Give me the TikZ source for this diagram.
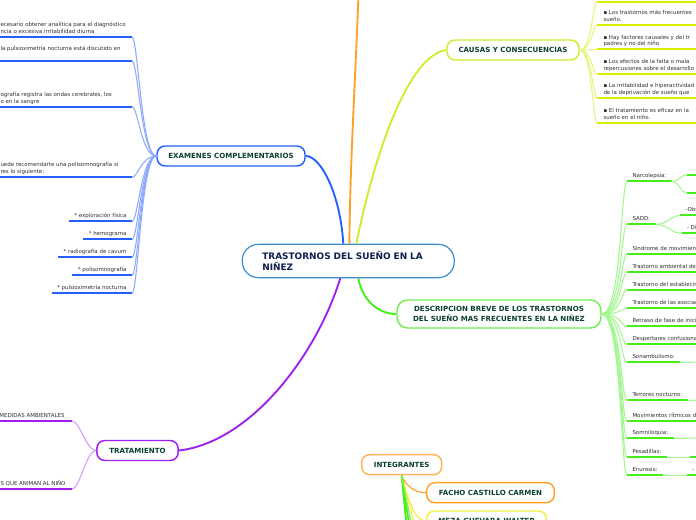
\documentclass[tikz,border=0pt]{standalone}
\usepackage{fontspec}
\setmainfont{DejaVu Sans}

\definecolor{rootline}{HTML}{3C8DCC}
\definecolor{roottext}{HTML}{0E1E4E}
\definecolor{topictext}{HTML}{0B4030}
\definecolor{leaftext}{HTML}{2E2E2E}
\definecolor{exblue}{HTML}{2360FF}
\definecolor{exlight}{HTML}{8EAAFF}
\definecolor{causa}{HTML}{D6F000}
\definecolor{causaborder}{HTML}{CDEE2C}
\definecolor{causalight}{HTML}{E4F57A}
\definecolor{descgreen}{HTML}{44EE18}
\definecolor{descborder}{HTML}{6FEE4C}
\definecolor{desclight}{HTML}{A2F78E}
\definecolor{tratpurple}{HTML}{9E1FF0}
\definecolor{tratlight}{HTML}{D09CFF}
\definecolor{integorange}{HTML}{FFA126}
\definecolor{mezayellow}{HTML}{F2F040}

\newcommand{\rootfont}{\bfseries\fontsize{6.7pt}{8.25pt}\selectfont}
\newcommand{\topicfont}{\bfseries\fontsize{5.3pt}{7.1pt}\selectfont}
\newcommand{\leaffont}{\fontsize{4.1pt}{5.1pt}\selectfont}

\tikzset{every picture/.style={line width=0.75pt}}
\tikzset{
  topic/.style={draw, fill=white, rounded corners=6pt, line width=1.1pt, inner sep=0pt, align=center, text=topictext, font=\topicfont},
  leaf/.style={inner xsep=3.75pt, inner ysep=0pt, text depth=2.6pt, anchor=base west, text=leaftext, font=\leaffont},
  note/.style={inner sep=0pt, align=left, anchor=base west, text=leaftext, font=\leaffont},
  branch/.style={line width=1.4pt},
  exline/.style={exblue, line width=1.5pt},
  exlink/.style={exlight, line width=0.8pt},
  caline/.style={causa, line width=1.5pt},
  calink/.style={causalight, line width=0.8pt},
  dline/.style={descgreen, line width=1.5pt},
  dlink/.style={desclight, line width=0.8pt},
  tline/.style={tratpurple, line width=1.5pt},
  tlink/.style={tratlight, line width=0.8pt}
}

\begin{document}
\begin{tikzpicture}[x=0.75pt,y=0.75pt,yscale=-1,xscale=1]
\useasboundingbox (0,0) rectangle (696,520);
\clip (0,0) rectangle (696,520);

%Shape: Rounded Rect [root]
\node[draw=rootline, fill=white, rounded corners=12pt, line width=0.9pt, minimum width=159pt, minimum height=25pt, inner sep=0pt, text width=129pt, align=left, text=roottext, font=\rootfont] (root) at (348.3,261) {TRASTORNOS DEL SUEÑO EN LA\\NIÑEZ};

%Shape: Rounded Rect [topics]
\node[topic, draw=exblue, minimum width=111pt, minimum height=15pt] (exam) at (231,156) {EXAMENES COMPLEMENTARIOS};
\node[topic, draw=causaborder, minimum width=99pt, minimum height=15pt] (causas) at (513,50) {CAUSAS Y CONSECUENCIAS};
\node[topic, draw=descborder, minimum width=153pt, minimum height=21pt, rounded corners=8pt] (desc) at (499,314) {DESCRIPCION BREVE DE LOS TRASTORNOS\\DEL SUEÑO MAS FRECUENTES EN LA NIÑEZ};
\node[topic, draw=tratpurple, minimum width=61pt, minimum height=15pt] (trat) at (137.5,450.5) {TRATAMIENTO};
\node[topic, draw=integorange!80, minimum width=60pt, minimum height=15pt] (integ) at (401.7,464.7) {INTEGRANTES};
\node[topic, draw=integorange, minimum width=95.7pt, minimum height=15pt] (facho) at (490.5,492.7) {FACHO CASTILLO CARMEN};
\node[topic, draw=mezayellow, minimum width=90pt, minimum height=15pt] (meza) at (486.7,521) {MEZA GUEVARA WALTER};

%Curve Lines [main branches]
\coordinate (orangeend) at (359,-20);
\draw[exblue, branch] (exam.east) .. controls +(15,0) and +(-3,-50) .. ([shift={(-5,0)}]root.north);
\draw[integorange, branch] ([shift={(1,0)}]root.north) .. controls +(1,-90) and +(-3,90) .. (orangeend);
\draw[causaborder, branch] ([shift={(8,0)}]root.north) .. controls +(19,-94) and +(-37,5) .. (causas.west);
\draw[tratpurple, branch] ([shift={(-8,0)}]root.south) .. controls +(-25,80) and +(70,-8) .. (trat.east);
\draw[descgreen, branch] ([shift={(10,0)}]root.south) .. controls +(4,22) and +(-18,0) .. (desc.west);

%Curve Lines [integrantes]
\coordinate (g1) at (407,530);
\coordinate (g2) at (410,530);
\coordinate (g3) at (412.5,530);
\coordinate (y1) at (416,530);
\draw[integorange, line width=0.9pt] (integ.south) .. controls +(4,10) and +(-12,0) .. (facho.west);
\draw[mezayellow, line width=0.9pt] (integ.south) .. controls +(6,22) and +(-12,0) .. (meza.west);
\draw[mezayellow, line width=0.9pt] (integ.south) -- (y1);
\draw[descgreen, line width=1.4pt] (integ.south) -- (g1);
\draw[descgreen, line width=1.2pt] (integ.south) -- (g2);
\draw[descgreen!70, line width=1pt] (integ.south) -- (g3);

%Examenes complementarios
\coordinate (ex1) at (132,37);
\coordinate (ex2) at (132,61);
\coordinate (ex3) at (132,106.7);
\coordinate (ex4) at (132,177.3);
% Text Node
\node[note] (ext1) at (0,33.5) {ecesario obtener analítica para el diagnóstico\\ncia o excesiva irritabilidad diurna};
% Text Node
\node[note] (ext2) at (0,50.7) {la pulsioximetría nocturna está discutido en};
% Text Node
\node[note] (ext3) at (0,103.2) {ografía registra las ondas cerebrales, los\\o en la sangre};
% Text Node
\node[note] (ext4) at (0,173.8) {uede recomendarte una polisomnografía si\\res lo siguiente:};
% Text Node
\node[leaf, anchor=base east] (ex5) at (132,217.5) {* exploración física};
\node[leaf, anchor=base east] (ex6) at (132,235.5) {* hemograma};
\node[leaf, anchor=base east] (ex7) at (132,253.5) {* radiografía de cavum};
\node[leaf, anchor=base east] (ex8) at (132,271.5) {* polisomnografía};
\node[leaf, anchor=base east] (ex9) at (132,289.5) {* pulsioximetría nocturna};

\draw[exline] (ex1) -- ++(-140,0);
\draw[exline] (ex2) -- ++(-140,0);
\draw[exline] (ex3) -- ++(-140,0);
\draw[exline] (ex4) -- ++(-140,0);
\draw[exline] (ex5.south west) -- (ex5.south east);
\draw[exline] (ex6.south west) -- (ex6.south east);
\draw[exline] (ex7.south west) -- (ex7.south east);
\draw[exline] (ex8.south west) -- (ex8.south east);
\draw[exline] (ex9.south west) -- (ex9.south east);

\draw[exlink] (exam.west) .. controls +(-15,0) and +(6,0) .. (ex1);
\draw[exlink] (exam.west) .. controls +(-15,0) and +(6,0) .. (ex2);
\draw[exlink] (exam.west) .. controls +(-15,0) and +(6,0) .. (ex3);
\draw[exlink] (exam.west) .. controls +(-15,0) and +(6,0) .. (ex4);
\draw[exlink] (exam.west) .. controls +(-15,0) and +(6,0) .. (ex5.south east);
\draw[exlink] (exam.west) .. controls +(-15,0) and +(6,0) .. (ex6.south east);
\draw[exlink] (exam.west) .. controls +(-15,0) and +(6,0) .. (ex7.south east);
\draw[exlink] (exam.west) .. controls +(-15,0) and +(6,0) .. (ex8.south east);
\draw[exlink] (exam.west) .. controls +(-15,0) and +(6,0) .. (ex9.south east);

%Causas y consecuencias
\coordinate (ca0) at (597,2);
\coordinate (ca1) at (597,25);
\coordinate (ca2) at (597,49.5);
\coordinate (ca3) at (597,74);
\coordinate (ca4) at (597,98.3);
\coordinate (ca5) at (597,122.7);
% Text Node
\node[note] (cat1) at (603,21.5) {▪ Los trastornos más frecuentes\\sueño.};
\node[note] (cat2) at (603,46) {▪ Hay factores causales y del tr\\padres y no del niño};
\node[note] (cat3) at (603,70.5) {▪ Los efectos de la falta o mala\\repercusiones sobre el desarrollo};
\node[note] (cat4) at (603,94.8) {▪ La irritabilidad e hiperactividad\\de la deprivación de sueño que};
\node[note] (cat5) at (603,119.2) {▪ El tratamiento es eficaz en la\\sueño en el niño.};

\draw[caline] (ca0) -- ++(110,0);
\draw[caline] (ca1) -- ++(110,0);
\draw[caline] (ca2) -- ++(110,0);
\draw[caline] (ca3) -- ++(110,0);
\draw[caline] (ca4) -- ++(110,0);
\draw[caline] (ca5) -- ++(110,0);
\draw[calink] (causas.east) .. controls +(12,0) and +(-4,0) .. (ca0);
\draw[calink] (causas.east) .. controls +(12,0) and +(-4,0) .. (ca1);
\draw[calink] (causas.east) .. controls +(12,0) and +(-4,0) .. (ca2);
\draw[calink] (causas.east) .. controls +(12,0) and +(-4,0) .. (ca3);
\draw[calink] (causas.east) .. controls +(12,0) and +(-4,0) .. (ca4);
\draw[calink] (causas.east) .. controls +(12,0) and +(-4,0) .. (ca5);

%Descripcion breve
% Text Node
\node[leaf] (d1) at (627,177.5) {Narcolepsia:};
\node[leaf] (d2) at (627,220.5) {SADD:};
\node[leaf] (d3) at (627,250.5) {Síndrome de movimientos};
\node[leaf] (d4) at (627,268.5) {Trastorno ambiental de};
\node[leaf] (d5) at (627,286.5) {Trastorno del establecimiento};
\node[leaf] (d6) at (627,304.5) {Trastorno de las asociaciones};
\node[leaf] (d7) at (627,322.5) {Retraso de fase de inicio};
\node[leaf] (d8) at (627,340.5) {Despertares confusionales};
\node[leaf] (d9) at (627,358.5) {Sonambulismo:};
\node[leaf] (d10) at (627,396.5) {Terrores nocturno:};
\node[leaf] (d11) at (627,417.5) {Movimientos rítmicos d};
\node[leaf] (d12) at (627,434.5) {Somniloquia:};
\node[leaf] (d13) at (627,453.5) {Pesadillas:};
\node[leaf] (d14) at (627,471.5) {Enuresis:};
% Text Node
\node[leaf] (d2a) at (680,211.5) {-Obs};
\node[leaf] (d2b) at (681.5,229.5) {- Dis};
\node[leaf] (d13a) at (690,453.5) {-};
\node[leaf] (d14a) at (686.7,471.5) {-};
\coordinate (d1a) at (687,175);
\coordinate (d1b) at (687,193);
\coordinate (d9a) at (700,362);
\coordinate (d10a) at (700,400);
\coordinate (d12a) at (700,438);

\draw[dline] (d1.south west) -- (d1.south east);
\draw[dline] (d2.south west) -- (d2.south east);
\draw[dline] (d3.south west) -- ++(80,0);
\draw[dline] (d4.south west) -- ++(80,0);
\draw[dline] (d5.south west) -- ++(80,0);
\draw[dline] (d6.south west) -- ++(80,0);
\draw[dline] (d7.south west) -- ++(80,0);
\draw[dline] (d8.south west) -- ++(80,0);
\draw[dline] (d9.south west) -- (d9.south east);
\draw[dline] (d10.south west) -- (d10.south east);
\draw[dline] (d11.south west) -- ++(80,0);
\draw[dline] (d12.south west) -- (d12.south east);
\draw[dline] (d13.south west) -- (d13.south east);
\draw[dline] (d14.south west) -- (d14.south east);
\draw[dline] (d1a) -- ++(20,0);
\draw[dline] (d1b) -- ++(20,0);
\draw[dline] (d2a.south west) -- ++(30,0);
\draw[dline] (d2b.south west) -- ++(30,0);
\draw[dline] (d13a.south west) -- ++(20,0);
\draw[dline] (d14a.south west) -- ++(20,0);

\draw[dlink] (desc.east) .. controls +(20,0) and +(-6,0) .. (d1.south west);
\draw[dlink] (desc.east) .. controls +(20,0) and +(-6,0) .. (d2.south west);
\draw[dlink] (desc.east) .. controls +(20,0) and +(-6,0) .. (d3.south west);
\draw[dlink] (desc.east) .. controls +(20,0) and +(-6,0) .. (d4.south west);
\draw[dlink] (desc.east) .. controls +(20,0) and +(-6,0) .. (d5.south west);
\draw[dlink] (desc.east) .. controls +(20,0) and +(-6,0) .. (d6.south west);
\draw[dlink] (desc.east) .. controls +(20,0) and +(-6,0) .. (d7.south west);
\draw[dlink] (desc.east) .. controls +(20,0) and +(-6,0) .. (d8.south west);
\draw[dlink] (desc.east) .. controls +(20,0) and +(-6,0) .. (d9.south west);
\draw[dlink] (desc.east) .. controls +(20,0) and +(-6,0) .. (d10.south west);
\draw[dlink] (desc.east) .. controls +(20,0) and +(-6,0) .. (d11.south west);
\draw[dlink] (desc.east) .. controls +(20,0) and +(-6,0) .. (d12.south west);
\draw[dlink] (desc.east) .. controls +(20,0) and +(-6,0) .. (d13.south west);
\draw[dlink] (desc.east) .. controls +(20,0) and +(-6,0) .. (d14.south west);
\draw[dlink] (d1.south east) .. controls +(8,0) and +(-7,0) .. (d1a);
\draw[dlink] (d1.south east) .. controls +(8,0) and +(-7,0) .. (d1b);
\draw[dlink] (d2.south east) .. controls +(12,0) and +(-9,0) .. (d2a.south west);
\draw[dlink] (d2.south east) .. controls +(12,0) and +(-9,0) .. (d2b.south west);
\draw[dlink] (d9.south east) -- (d9a);
\draw[dlink] (d10.south east) -- (d10a);
\draw[dlink] (d12.south east) -- (d12a);
\draw[dlink] (d13.south east) -- (d13a.south west);
\draw[dlink] (d14.south east) -- (d14a.south west);

%Tratamiento
\coordinate (tr1) at (72,421);
\coordinate (tr2) at (72,489);
% Text Node
\node[note] (trt1) at (-1,417.5) {MEDIDAS AMBIENTALES};
\node[note] (trt2) at (0,485.5) {S QUE ANIMAN AL NIÑO};
\draw[tline] (tr1) -- ++(-80,0);
\draw[tline] (tr2) -- ++(-80,0);
\draw[tlink] (trat.west) .. controls +(-10,0) and +(8,0) .. (tr1);
\draw[tlink] (trat.west) .. controls +(-10,0) and +(8,0) .. (tr2);

\end{tikzpicture}
\end{document}
